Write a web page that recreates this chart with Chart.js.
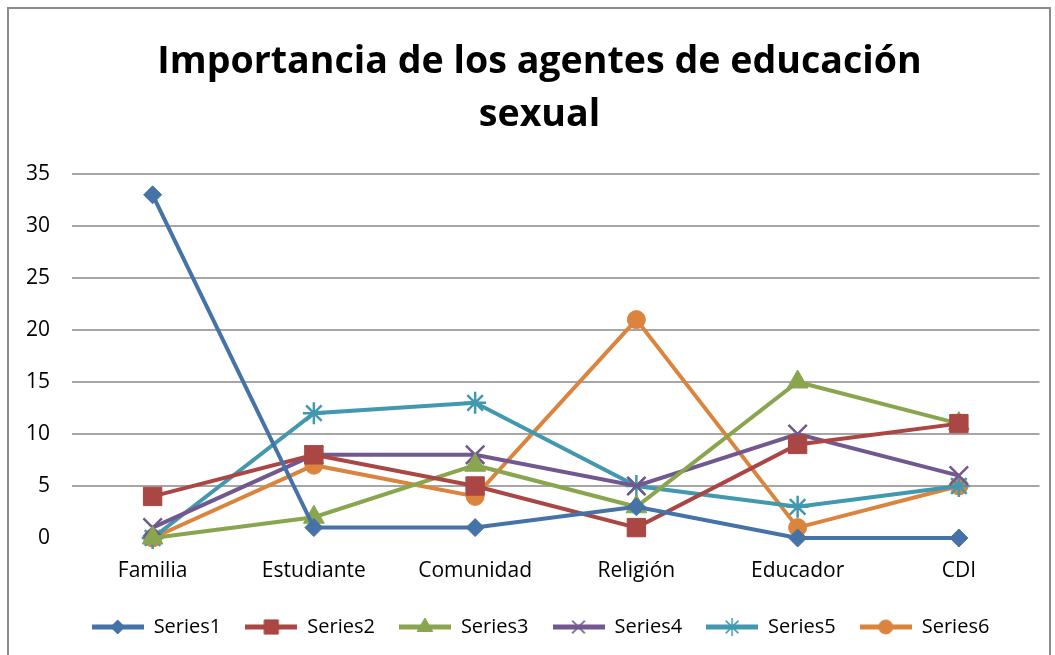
<!DOCTYPE html>
<html>
<head>
<meta charset="utf-8">
<script src="https://cdn.jsdelivr.net/npm/chart.js@4/dist/chart.umd.min.js"></script>
<style>
  html, body { margin: 0; padding: 0; background: #fff; }
  #wrap { position: relative; width: 1055px; height: 655px; }
</style>
</head>
<body>
<div id="wrap"><canvas id="chart" width="1055" height="655"></canvas></div>
<script>
const categories = ['Familia', 'Estudiante', 'Comunidad', 'Religión', 'Educador', 'CDI'];
const series1 = [33, 1, 1, 3, 0, 0];
const series2 = [4, 8, 5, 1, 9, 11];
const series3 = [0, 2, 7, 3, 15, 11];
const series4 = [1, 8, 8, 5, 10, 6];
const series5 = [0, 12, 13, 5, 3, 5];
const series6 = [0, 7, 4, 21, 1, 5];
const seriesNames = ['Series1', 'Series2', 'Series3', 'Series4', 'Series5', 'Series6'];
const yTicks = [0, 5, 10, 15, 20, 25, 30, 35];

const colors = ['#4572A7', '#AA4643', '#89A54E', '#71588F', '#4198AF', '#DB843D'];
const styles = ['rectRot', 'rect', 'triangle', 'crossRot', 'star', 'circle'];
const radii = [9, 13, 12, 13, 11, 9];
const legendRadii = [7, 10, 9, 9, 9, 7];

function isStroke(s) { return s === 'crossRot' || s === 'star'; }

function makeDataset(i, data) {
    return {
        label: seriesNames[i],
        data: data,
        borderColor: colors[i],
        backgroundColor: colors[i],
        borderWidth: 4,
        pointStyle: styles[i],
        pointRadius: radii[i],
        pointHoverRadius: radii[i],
        pointBorderWidth: isStroke(styles[i]) ? 2.5 : 1,
        clip: false,
        tension: 0
    };
}

// small canvas with line + marker for the legend
function legendIcon(i) {
    const c = document.createElement('canvas');
    c.width = 52; c.height = 22;
    const ctx = c.getContext('2d');
    ctx.strokeStyle = colors[i];
    ctx.lineWidth = 5;
    ctx.beginPath();
    ctx.moveTo(0, 11); ctx.lineTo(52, 11);
    ctx.stroke();
    ctx.fillStyle = colors[i];
    ctx.lineWidth = isStroke(styles[i]) ? 1.5 : 1;
    Chart.helpers.drawPoint(ctx, {pointStyle: styles[i], radius: legendRadii[i], rotation: 0, borderWidth: ctx.lineWidth}, 26, 11);
    return c;
}

const frame = {
    id: 'frame',
    beforeDraw(chart) {
        const ctx = chart.ctx;
        ctx.save();
        ctx.fillStyle = '#fff';
        ctx.fillRect(0, 0, chart.width, chart.height);
        ctx.strokeStyle = '#8c8c8c';
        ctx.lineWidth = 2;
        ctx.strokeRect(8, 8, 1042, 660);
        ctx.restore();
    },
    // nudge title and legend a little to the right, like the original
    afterLayout(chart) {
        if (chart.titleBlock) chart.titleBlock.left += 22;
        if (chart.legend) chart.legend.left += 24;
    }
};

new Chart(document.getElementById('chart'), {
    type: 'line',
    data: {
        labels: categories,
        datasets: [
            makeDataset(0, series1),
            makeDataset(1, series2),
            makeDataset(2, series3),
            makeDataset(3, series4),
            makeDataset(4, series5),
            makeDataset(5, series6)
        ]
    },
    plugins: [frame],
    options: {
        responsive: false,
        animation: false,
        layout: { padding: { left: 14, right: 12, top: 12, bottom: 8 } },
        plugins: {
            title: {
                display: true,
                text: ['Importancia de los agentes de educación', 'sexual'],
                font: { family: 'Open Sans', size: 37.6, weight: 'bold', lineHeight: 1.41 },
                color: '#000',
                padding: { top: 24, bottom: 32 }
            },
            legend: {
                position: 'bottom',
                labels: {
                    usePointStyle: true,
                    pointStyleWidth: 52,
                    padding: 24,
                    color: '#000',
                    font: { family: 'Open Sans', size: 20 },
                    generateLabels(chart) {
                        return chart.data.datasets.map((ds, i) => ({
                            text: ds.label,
                            pointStyle: legendIcon(i),
                            fillStyle: colors[i],
                            strokeStyle: colors[i],
                            lineWidth: 0,
                            datasetIndex: i,
                            hidden: false
                        }));
                    }
                }
            },
            tooltip: { enabled: false }
        },
        scales: {
            x: {
                offset: true,
                afterFit(axis) { axis.height = 55; },
                grid: { display: false, drawTicks: false },
                border: { display: false },
                ticks: { color: '#000', padding: 20, font: { family: 'Open Sans', size: 21 } }
            },
            y: {
                min: 0,
                max: 35,
                afterBuildTicks(axis) { axis.ticks = yTicks.map(v => ({ value: v })); },
                afterFit(axis) { axis.width = 58; },
                grid: {
                    drawTicks: false,
                    color: ctx => ctx.tick && ctx.tick.value === 0 ? 'rgba(0,0,0,0)' : '#a6a6a6',
                    lineWidth: 2
                },
                border: { display: false },
                ticks: { color: '#000', padding: 22, font: { family: 'Open Sans', size: 21 } }
            }
        }
    }
});
</script>
</body>
</html>
